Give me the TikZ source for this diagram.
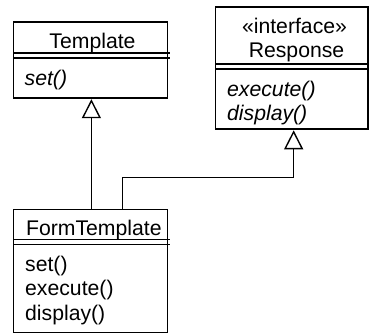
\documentclass[tikz,border=0pt]{standalone}
\usepackage{fontspec}
\setmainfont{Liberation Sans}
\usetikzlibrary{arrows.meta}
\begin{document}
\begin{tikzpicture}[x=1pt,y=-1pt,
  classbox/.style={draw, line width=1.4pt, rectangle, inner sep=0pt, outer sep=0pt, anchor=north west},
  sep/.style={line width=1.4pt},
  lbl/.style={anchor=base, inner sep=0pt, font=\fontsize{21.2}{24}\selectfont},
  meth/.style={anchor=base west, inner sep=0pt, font=\fontsize{21.2}{24}\selectfont},
  ameth/.style={meth, font=\fontsize{21.2}{24}\selectfont\itshape},
  gen/.style={line width=1.4pt, -{Triangle[open, length=19pt, width=19pt, line width=1.4pt]}}
]
\useasboundingbox (0,0) rectangle (369,335);

% class boxes
\node[classbox, minimum width=154.2pt, minimum height=76pt] (template) at (13.3,22) {};
\node[classbox, minimum width=152.3pt, minimum height=121.8pt] (response) at (215.5,7) {};
\node[classbox, minimum width=154.2pt, minimum height=123.4pt] (formtemplate) at (13.3,209.3) {};

% compartment separators (double rules)
\draw[sep] (13.3,53) -- (170,53);
\draw[sep] (13.3,57.8) -- (170,57.8);
\draw[sep] (215.5,64) -- (369,64);
\draw[sep] (215.5,68.8) -- (369,68.8);
\draw[sep] (13.3,239.7) -- (170,239.7);
\draw[sep] (13.3,244.3) -- (170,244.3);

% Template
\node[lbl] (tname) at (92.5,48.3) {Template};
\node[ameth] (tset) at (24.5,85) {set()};

% Response
\node[lbl] (rstereo) at (294.5,33.3) {«interface»};
\node[lbl] (rname) at (296.5,57.5) {Response};
\node[ameth] (rexec) at (227,96.5) {execute()};
\node[ameth] (rdisp) at (227,120.5) {display()};

% FormTemplate
\node[lbl] (fname) at (93.8,235) {FormTemplate};
\node[meth] (fset) at (25,271) {set()};
\node[meth] (fexec) at (25,295.8) {execute()};
\node[meth] (fdisp) at (25,320.5) {display()};

% generalization / realization connectors
\draw[gen] ([xshift=1pt]formtemplate.north) -- ([xshift=1pt,yshift=-1.2pt]template.south);
\coordinate (rbend) at (122.7,177.3);
\draw[gen] (formtemplate.north -| rbend) -- (rbend) -| ([xshift=2pt,yshift=-1.5pt]response.south);
\end{tikzpicture}
\end{document}
